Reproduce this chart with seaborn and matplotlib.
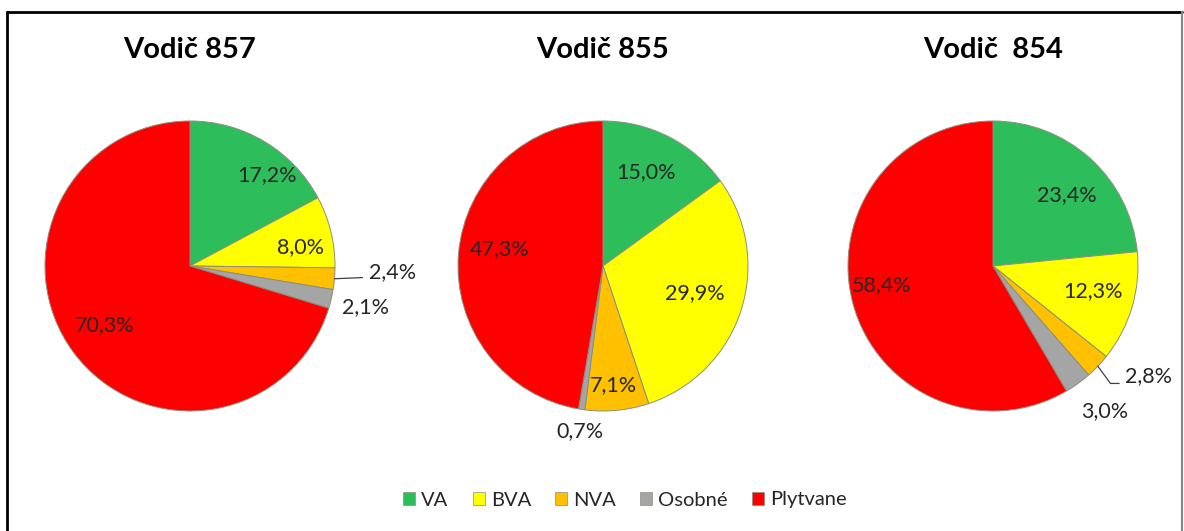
import matplotlib
matplotlib.use('Agg')
import numpy as np
import matplotlib.pyplot as plt
import seaborn as sns
from matplotlib.lines import Line2D
from matplotlib.patches import Patch

# ---- data ----
categories = ['VA', 'BVA', 'NVA', 'Osobné', 'Plytvane']
titles = ['Vodič 857', 'Vodič 855', 'Vodič  854']
vodic_857 = [17.2, 8.0, 2.4, 2.1, 70.3]
vodic_855 = [15.0, 29.9, 7.1, 0.7, 47.3]
vodic_854 = [23.4, 12.3, 2.8, 3.0, 58.4]
series = [vodic_857, vodic_855, vodic_854]

# ---- style ----
sns.set_theme(style='white')
plt.rcParams['font.family'] = ['Lato', 'DejaVu Sans']
colors = sns.color_palette(['#2DBE5B', '#FFFF00', '#FFC000', '#A5A5A5', '#FF0000'])
text_color = '#262626'

W, H = 1184, 531
fig = plt.figure(figsize=(W / 100, H / 100), dpi=100)
fig.patch.set_facecolor('white')

centers = [190, 603, 993]
cy, r = 266, 145

# label positions (radius units) for each slice, per chart
label_pos = [
    [(0.53, 0.63), (0.76, 0.13), (1.40, -0.04), (1.21, -0.28), (-0.59, -0.41)],
    [(0.30, 0.65), (0.63, -0.19), (0.07, -0.82), (-0.16, -1.14), (-0.71, 0.12)],
    [(0.51, 0.49), (0.69, -0.17), (1.07, -0.76), (0.77, -1.00), (-0.77, -0.13)],
]
# leader lines: (chart, slice, path after edge)
leaders = {
    (0, 2): [(1.19, -0.08)],
    (2, 2): [(0.81, -0.81), (0.87, -0.81)],
}

for i, (cx, vals, title) in enumerate(zip(centers, series, titles)):
    ax = fig.add_axes([(cx - r) / W, (H - cy - r) / H, 2 * r / W, 2 * r / H])
    wedges, _ = ax.pie(vals, colors=colors, startangle=90, counterclock=False,
                       radius=1, wedgeprops=dict(edgecolor='#8a8f80', linewidth=0.7))
    ax.set_xlim(-1, 1)
    ax.set_ylim(-1, 1)
    ax.axis('off')
    for j, v in enumerate(vals):
        x, y = label_pos[i][j]
        ax.text(x, y, f'{v:.1f}%'.replace('.', ','), ha='center', va='center',
                fontsize=15.5, color=text_color, clip_on=False)
        if (i, j) in leaders:
            w = wedges[j]
            th = np.deg2rad((w.theta1 + w.theta2) / 2)
            pts = [(np.cos(th), np.sin(th))] + leaders[(i, j)]
            xs, ys = zip(*pts)
            ax.add_line(Line2D(xs, ys, color='#404040', lw=0.9, clip_on=False))
    fig.text(cx / W, 1 - 50 / H, title, ha='center', va='center',
             fontsize=21, fontweight='bold', color='black')

handles = [Patch(facecolor=c, edgecolor='#8a8f80', linewidth=0.5) for c in colors]
fig.legend(handles, categories, loc='center', bbox_to_anchor=(625 / W, 1 - 500 / H),
           ncol=5, frameon=False, fontsize=14.5, handlelength=0.6, handleheight=0.6,
           handletextpad=0.3, columnspacing=1.2, labelcolor=text_color)

# figure border
fig.add_artist(Line2D([7 / W, 7 / W], [0, 1 - 12 / H], color='black', lw=2, transform=fig.transFigure))
fig.add_artist(Line2D([7 / W, 1182 / W], [1 - 12 / H, 1 - 12 / H], color='black', lw=2, transform=fig.transFigure))
fig.add_artist(Line2D([1182 / W, 1182 / W], [0, 1 - 12 / H], color='#888888', lw=1.5, transform=fig.transFigure))

fig.savefig('out.png', dpi=100)
